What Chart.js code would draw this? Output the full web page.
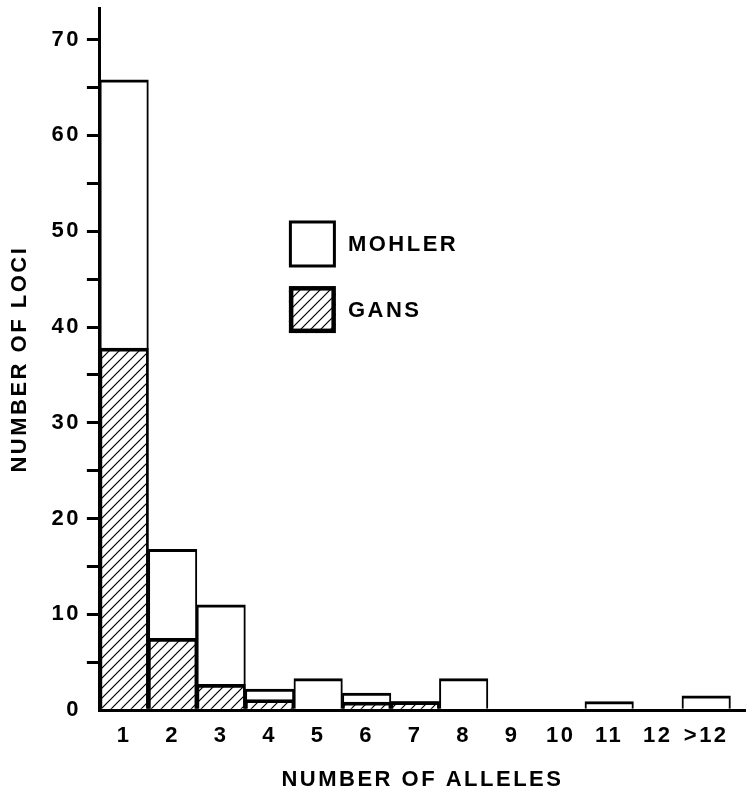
<!DOCTYPE html>
<html>
<head>
<meta charset="utf-8">
<script src="https://cdn.jsdelivr.net/npm/chart.js@4"></script>
<style>
  body { margin: 0; background: #fff; }
  #wrap { width: 749px; height: 795px; }
</style>
</head>
<body>
<div id="wrap"><canvas id="alleles-chart"></canvas></div>
<script>
// Number of loci by number of alleles
const categories = ['1', '2', '3', '4', '5', '6', '7', '8', '9', '10', '11', '12', '>12'];
const mohlerLoci = [65.8, 16.8, 11, 2.2, 3.3, 1.8, 0.9, 3.3, 0, 0, 0.9, 0, 1.5];
const gansLoci = [37.8, 7.5, 2.7, 1.1, 0, 0.85, 0.9, 0, 0, 0, 0, 0, 0];
const yMax = 73.3;

const FONT = { family: '"Liberation Sans", Arial, sans-serif', size: 22, weight: 'bold' };
const LETTER_SPACING = '2.5px';

// diagonal hatch for the GANS bars
const hatchCanvas = document.createElement('canvas');
hatchCanvas.width = 10;
hatchCanvas.height = 10;
const hc = hatchCanvas.getContext('2d');
hc.strokeStyle = '#000';
hc.lineWidth = 1.2;
hc.beginPath();
hc.moveTo(0, 10); hc.lineTo(10, 0);
hc.moveTo(-1, 1); hc.lineTo(1, -1);
hc.moveTo(9, 11); hc.lineTo(11, 9);
hc.stroke();
const hatch = hc.createPattern(hatchCanvas, 'repeat');

// wide letter spacing like the original typesetting
const spacing = {
    id: 'spacing',
    beforeUpdate(chart) { chart.ctx.letterSpacing = LETTER_SPACING; },
    beforeDraw(chart) { chart.ctx.letterSpacing = LETTER_SPACING; },
};

// legend boxes sitting inside the plot
const boxLegend = {
    id: 'boxLegend',
    afterDatasetsDraw(chart) {
        const { ctx, chartArea: a } = chart;
        const w = a.right - a.left, h = a.bottom - a.top;
        const x = a.left + w * 0.293;
        const size = 47;
        const rows = [
            { ds: chart.data.datasets[0], top: a.top + h * 0.3026, lw: 3 },
            { ds: chart.data.datasets[1], top: a.top + h * 0.396, lw: 4.5 },
        ];
        ctx.save();
        ctx.letterSpacing = LETTER_SPACING;
        rows.forEach(r => {
            ctx.fillStyle = r.ds.backgroundColor;
            ctx.fillRect(x, r.top, size, size);
            ctx.strokeStyle = '#000';
            ctx.lineWidth = r.lw;
            ctx.strokeRect(x + r.lw / 2, r.top + r.lw / 2, size - r.lw, size - r.lw);
            ctx.fillStyle = '#000';
            ctx.font = FONT.weight + ' ' + FONT.size + 'px ' + FONT.family;
            ctx.textBaseline = 'middle';
            ctx.textAlign = 'left';
            ctx.fillText(r.ds.label, x + size + 12, r.top + size / 2 + 1);
        });
        ctx.restore();
    },
};

const barBorder = { top: 3, left: 2, right: 2, bottom: 0 };

const ctx = document.getElementById('alleles-chart').getContext('2d');

const allelesChart = new Chart(ctx, {
    type: 'bar',
    data: {
        datasets: [
            {
                label: 'MOHLER',
                data: mohlerLoci.map((v, i) => ({ x: i + 1, y: v })),
                backgroundColor: '#ffffff',
                borderColor: '#000000',
                borderWidth: barBorder,
                borderSkipped: 'start',
                order: 2,
            },
            {
                label: 'GANS',
                data: gansLoci.map((v, i) => ({ x: i + 1, y: v })),
                backgroundColor: hatch,
                borderColor: '#000000',
                borderWidth: barBorder,
                borderSkipped: 'start',
                order: 1,
            },
        ],
    },
    options: {
        responsive: true,
        maintainAspectRatio: false,
        animation: false,
        grouped: false,
        barPercentage: 1,
        categoryPercentage: 1,
        layout: { padding: { top: 8, right: 4, left: 0, bottom: 0 } },
        plugins: {
            legend: { display: false },
            tooltip: { enabled: false },
        },
        scales: {
            x: {
                type: 'linear',
                offset: false,
                min: 0.5,
                max: 13.8,
                afterBuildTicks: scale => {
                    scale.ticks = categories.map((c, i) => ({ value: i + 1 }));
                },
                ticks: {
                    autoSkip: false,
                    maxRotation: 0,
                    padding: 13,
                    color: '#000',
                    font: FONT,
                    callback: v => categories[v - 1],
                },
                grid: { display: false, drawTicks: false },
                border: { display: true, color: '#000', width: 3 },
                title: {
                    display: true,
                    text: 'NUMBER OF ALLELES',
                    color: '#000',
                    font: FONT,
                    padding: { top: 4, bottom: 2 },
                },
            },
            y: {
                min: 0,
                max: yMax,
                afterFit: scale => { scale.paddingTop = 0; scale.paddingBottom = 0; },
                ticks: {
                    stepSize: 5,
                    includeBounds: false,
                    padding: 6,
                    color: '#000',
                    font: FONT,
                    callback: v => (v % 10 === 0 ? v : ''),
                },
                grid: {
                    drawOnChartArea: false,
                    drawTicks: true,
                    tickLength: 13,
                    lineWidth: 3,
                    color: '#000',
                    tickColor: c => (c.tick && c.tick.value === 0 ? 'rgba(0,0,0,0)' : '#000'),
                },
                border: { display: true, color: '#000', width: 3 },
                title: {
                    display: true,
                    text: 'NUMBER OF LOCI',
                    color: '#000',
                    font: FONT,
                    padding: { top: 7, bottom: 12 },
                },
            },
        },
    },
    plugins: [spacing, boxLegend],
});
</script>
</body>
</html>
